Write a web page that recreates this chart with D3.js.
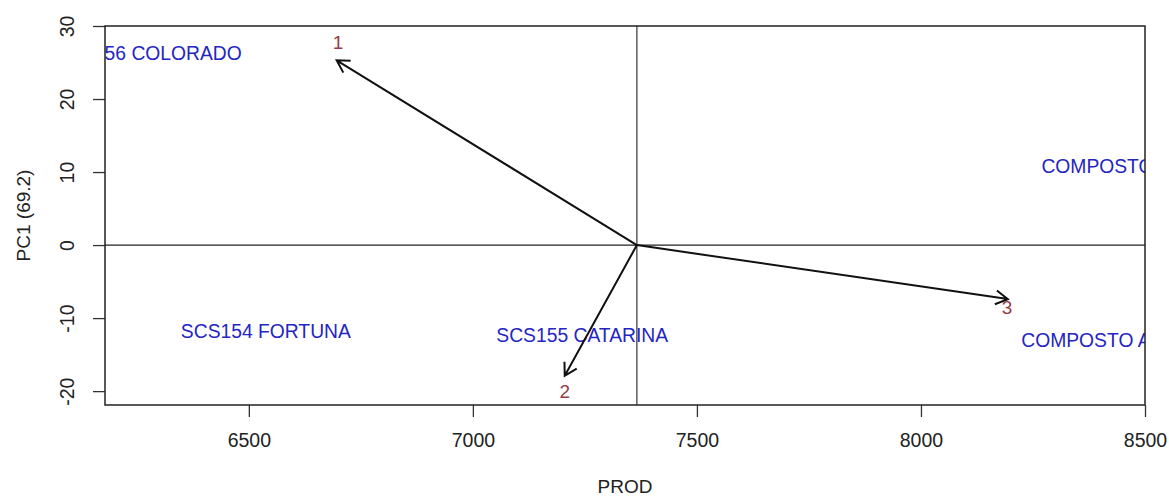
<!DOCTYPE html>
<html>
<head>
<meta charset="utf-8">
<script src="https://cdn.jsdelivr.net/npm/d3@7"></script>
<style>
  html, body { margin: 0; padding: 0; background: #fff; }
  svg { display: block; font-family: "Liberation Sans", Arial, sans-serif; }
</style>
</head>
<body>
<div id="chart"></div>
<script>
// axis ranges and ticks
const xDomain = [6179, 8500];
const yDomain = [-21.9, 30];
const xTicks = [6500, 7000, 7500, 8000, 8500];
const yTicks = [-20, -10, 0, 10, 20, 30];
const xTitle = 'PROD';
const yTitle = 'PC1 (69.2)';

// reference lines (mean PROD, PC1 = 0)
const centerX = 7366;
const centerY = 0;

// genotypes (label centres)
const genoNames = ['SCS156 COLORADO', 'SCS154 FORTUNA', 'SCS155 CATARINA', 'COMPOSTO BRANCO', 'COMPOSTO AMARELO'];
const genoX = [6275, 6538, 7244, 8492, 8459];
const genoY = [26.3, -11.85, -12.4, 10.7, -13.1];

// environment vectors
const envNames = ['1', '2', '3'];
const envX = [6696, 7205, 8194];
const envY = [25.3, -17.9, -7.4];
const envLabelX = [6699, 7205, 8192];
const envLabelY = [27.8, -20.1, -8.6];

const WIDTH = 1169;
const HEIGHT = 496;
const margin = { top: 26, right: 24, bottom: 91, left: 105 };

const svg = d3.select('#chart')
  .append('svg')
  .attr('width', WIDTH)
  .attr('height', HEIGHT);

const x = d3.scaleLinear().domain(xDomain).range([margin.left, WIDTH - margin.right]);
const y = d3.scaleLinear().domain(yDomain).range([HEIGHT - margin.bottom, margin.top]);

svg.append('clipPath')
  .attr('id', 'plot-clip')
  .append('rect')
  .attr('x', margin.left)
  .attr('y', margin.top)
  .attr('width', WIDTH - margin.left - margin.right)
  .attr('height', HEIGHT - margin.top - margin.bottom);

const plot = svg.append('g').attr('clip-path', 'url(#plot-clip)');

// crosshair
plot.append('line')
  .attr('x1', x(centerX)).attr('x2', x(centerX))
  .attr('y1', margin.top).attr('y2', HEIGHT - margin.bottom)
  .attr('stroke', '#444').attr('stroke-width', 1.3);
plot.append('line')
  .attr('x1', margin.left).attr('x2', WIDTH - margin.right)
  .attr('y1', y(centerY)).attr('y2', y(centerY))
  .attr('stroke', '#222').attr('stroke-width', 1.3);

// genotype labels
plot.selectAll('.geno')
  .data(genoNames)
  .join('text')
  .attr('class', 'geno')
  .attr('x', (d, i) => x(genoX[i]))
  .attr('y', (d, i) => y(genoY[i]))
  .attr('text-anchor', 'middle')
  .attr('dominant-baseline', 'central')
  .attr('font-size', 19.3)
  .attr('fill', '#2525c2')
  .text((d) => d);

// arrows
const headLen = 14;
const headAngle = Math.PI / 6;
const arrowPath = (i) => {
  const x0 = x(centerX), y0 = y(centerY);
  const x1 = x(envX[i]), y1 = y(envY[i]);
  const a = Math.atan2(y1 - y0, x1 - x0);
  const h1 = [x1 - headLen * Math.cos(a - headAngle), y1 - headLen * Math.sin(a - headAngle)];
  const h2 = [x1 - headLen * Math.cos(a + headAngle), y1 - headLen * Math.sin(a + headAngle)];
  return `M${x0},${y0}L${x1},${y1}M${h1[0]},${h1[1]}L${x1},${y1}L${h2[0]},${h2[1]}`;
};

plot.selectAll('.env-arrow')
  .data(envNames)
  .join('path')
  .attr('class', 'env-arrow')
  .attr('d', (d, i) => arrowPath(i))
  .attr('fill', 'none')
  .attr('stroke', '#111')
  .attr('stroke-width', 2);

plot.selectAll('.env-label')
  .data(envNames)
  .join('text')
  .attr('class', 'env-label')
  .attr('x', (d, i) => x(envLabelX[i]))
  .attr('y', (d, i) => y(envLabelY[i]))
  .attr('text-anchor', 'middle')
  .attr('dominant-baseline', 'central')
  .attr('font-size', 19)
  .attr('fill', '#9a3a48')
  .text((d) => d);

// axes
const tickFormat = (d) => String(d);
const xAxis = svg.append('g')
  .attr('transform', `translate(0, ${HEIGHT - margin.bottom})`)
  .call(d3.axisBottom(x).tickValues(xTicks).tickFormat(tickFormat).tickSize(12).tickSizeOuter(0).tickPadding(16));
const yAxis = svg.append('g')
  .attr('transform', `translate(${margin.left}, 0)`)
  .call(d3.axisLeft(y).tickValues(yTicks).tickFormat(tickFormat).tickSize(12).tickSizeOuter(0));

[xAxis, yAxis].forEach((g) => {
  g.select('.domain').remove();
  g.selectAll('.tick line').attr('stroke', '#333').attr('stroke-width', 1.3);
  g.selectAll('.tick text')
    .attr('font-size', 19.5)
    .attr('font-family', '"Liberation Sans", Arial, sans-serif')
    .attr('fill', '#222');
});

yAxis.selectAll('.tick text')
  .attr('x', null)
  .attr('dy', null)
  .attr('text-anchor', 'middle')
  .attr('dominant-baseline', 'central')
  .attr('transform', 'translate(-38, 0) rotate(-90)');

// box
svg.append('rect')
  .attr('x', margin.left)
  .attr('y', margin.top)
  .attr('width', WIDTH - margin.left - margin.right)
  .attr('height', HEIGHT - margin.top - margin.bottom)
  .attr('fill', 'none')
  .attr('stroke', '#222')
  .attr('stroke-width', 1.5);

// titles
svg.append('text')
  .attr('x', (margin.left + WIDTH - margin.right) / 2)
  .attr('y', 486)
  .attr('text-anchor', 'middle')
  .attr('dominant-baseline', 'central')
  .attr('font-size', 19)
  .attr('fill', '#222')
  .text(xTitle);

svg.append('text')
  .attr('transform', `translate(23, ${(margin.top + HEIGHT - margin.bottom) / 2}) rotate(-90)`)
  .attr('text-anchor', 'middle')
  .attr('dominant-baseline', 'central')
  .attr('font-size', 19)
  .attr('fill', '#222')
  .text(yTitle);
</script>
</body>
</html>
